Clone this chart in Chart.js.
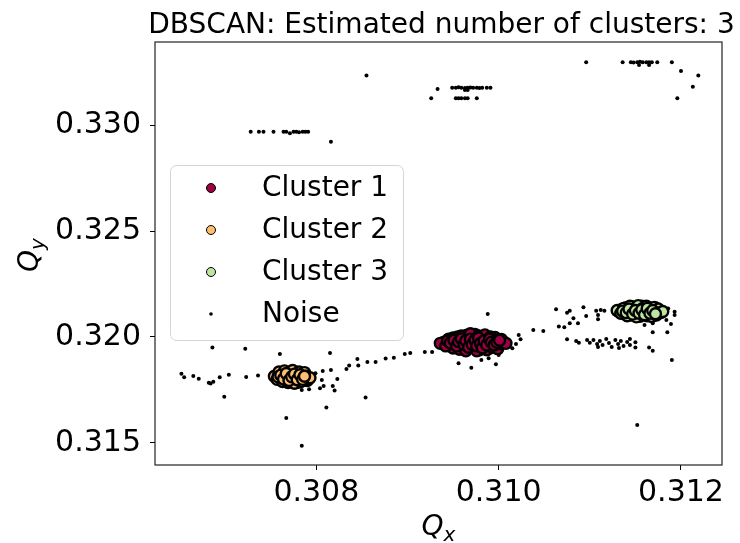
<!DOCTYPE html>
<html>
<head>
<meta charset="utf-8">
<script src="https://cdn.jsdelivr.net/npm/chart.js@4.4.1/dist/chart.umd.min.js"></script>
<style>
  html, body { margin: 0; padding: 0; background: #fff; }
  canvas { display: block; }
</style>
</head>
<body>
<canvas id="chart" width="740" height="543"></canvas>
<script>
// DBSCAN result on tune (Qx, Qy) samples
const titleText = "DBSCAN: Estimated number of clusters: 3";
const seriesNames = ["Cluster 1", "Cluster 2", "Cluster 3", "Noise"];
const seriesColors = ["#9e0142", "#fdbe6e", "#bee5a0", "#000000"];

const xTicks = [0.308, 0.310, 0.312];
const yTicks = [0.315, 0.320, 0.325, 0.330];
const xRange = [0.30623, 0.31245];
const yRange = [0.31396, 0.33392];

// core samples of each cluster, [Qx, Qy]
const cluster1 = [
  [0.30940,0.31975],[0.30945,0.31990],[0.30948,0.31962],[0.30952,0.31980],[0.30955,0.32000],
  [0.30958,0.31955],[0.30960,0.31970],[0.30962,0.31988],[0.30965,0.32008],[0.30966,0.31945],
  [0.30968,0.31962],[0.30970,0.31980],[0.30972,0.31996],[0.30974,0.32012],[0.30975,0.31950],
  [0.30977,0.31968],[0.30979,0.31940],[0.30980,0.31985],[0.30982,0.32002],[0.30984,0.31958],
  [0.30986,0.31975],[0.30988,0.31992],[0.30990,0.31948],[0.30992,0.31965],[0.30994,0.31982],
  [0.30996,0.31998],[0.30998,0.31960],[0.31000,0.31975],[0.31003,0.31988],[0.30950,0.31948],
  [0.30963,0.31975],[0.30985,0.31962],
  [0.30936,0.31970],[0.30942,0.31958],[0.30944,0.31982],[0.30950,0.31995],[0.30953,0.31968],
  [0.30957,0.31942],[0.30959,0.32005],[0.30961,0.31958],[0.30964,0.31935],[0.30967,0.31998],
  [0.30969,0.32015],[0.30971,0.31952],[0.30973,0.31970],[0.30976,0.31935],[0.30978,0.32005],
  [0.30981,0.31955],[0.30983,0.31990],[0.30985,0.32010],[0.30987,0.31940],[0.30989,0.31980],
  [0.30991,0.32000],[0.30993,0.31952],[0.30997,0.31985],[0.30999,0.31945],[0.31002,0.31968],
  [0.31005,0.31978],[0.31008,0.31970],
  [0.30947,0.31972],[0.30951,0.31985],[0.30954,0.31958],[0.30956,0.31978],[0.30959,0.31992],
  [0.30962,0.31965],[0.30964,0.31982],[0.30967,0.31952],[0.30969,0.31990],[0.30971,0.31965],
  [0.30974,0.31985],[0.30976,0.31958],[0.30978,0.31995],[0.30980,0.31970],[0.30982,0.31948],
  [0.30984,0.31982],[0.30987,0.31962],[0.30990,0.31990],[0.30992,0.31975],[0.30995,0.31962],
  [0.30998,0.31975],[0.31001,0.31985]
];
const cluster2 = [
  [0.30756,0.31810],[0.30758,0.31822],[0.30760,0.31798],[0.30762,0.31830],[0.30764,0.31812],
  [0.30766,0.31792],[0.30768,0.31825],[0.30770,0.31805],[0.30772,0.31835],[0.30773,0.31790],
  [0.30775,0.31818],[0.30777,0.31800],[0.30779,0.31828],[0.30780,0.31786],[0.30782,0.31812],
  [0.30784,0.31796],[0.30786,0.31822],[0.30788,0.31805],[0.30770,0.31815],[0.30778,0.31808],
  [0.30790,0.31795],
  [0.30754,0.31815],[0.30757,0.31800],[0.30759,0.31835],[0.30763,0.31790],[0.30765,0.31840],
  [0.30767,0.31810],[0.30769,0.31785],[0.30771,0.31825],[0.30774,0.31842],[0.30776,0.31782],
  [0.30779,0.31815],[0.30781,0.31835],[0.30783,0.31790],[0.30785,0.31810],[0.30787,0.31832],
  [0.30789,0.31815],[0.30791,0.31800],[0.30793,0.31808],
  [0.30758,0.31812],[0.30761,0.31820],[0.30764,0.31802],[0.30767,0.31828],[0.30770,0.31795],
  [0.30773,0.31812],[0.30776,0.31825],[0.30779,0.31798],[0.30782,0.31822],[0.30785,0.31800],
  [0.30787,0.31815]
];
const cluster3 = [
  [0.31132,0.32120],[0.31135,0.32130],[0.31138,0.32110],[0.31140,0.32138],[0.31143,0.32122],
  [0.31146,0.32104],[0.31148,0.32142],[0.31150,0.32116],[0.31152,0.32130],[0.31155,0.32098],
  [0.31157,0.32145],[0.31159,0.32112],[0.31161,0.32126],[0.31163,0.32100],[0.31165,0.32138],
  [0.31167,0.32118],[0.31170,0.32106],[0.31172,0.32130],[0.31174,0.32115],[0.31176,0.32122],
  [0.31145,0.32128],[0.31160,0.32120],
  [0.31130,0.32125],[0.31134,0.32112],[0.31137,0.32135],[0.31141,0.32100],[0.31144,0.32145],
  [0.31147,0.32115],[0.31149,0.32132],[0.31151,0.32095],[0.31153,0.32148],[0.31156,0.32120],
  [0.31158,0.32135],[0.31162,0.32145],[0.31164,0.32110],[0.31166,0.32128],[0.31168,0.32097],
  [0.31171,0.32140],[0.31173,0.32104],[0.31175,0.32132],[0.31178,0.32115],[0.31180,0.32120],
  [0.31136,0.32122],[0.31140,0.32115],[0.31143,0.32132],[0.31147,0.32108],[0.31150,0.32125],
  [0.31154,0.32112],[0.31157,0.32128],[0.31160,0.32105],[0.31163,0.32135],[0.31166,0.32112],
  [0.31169,0.32125],[0.31172,0.32110]
];
// points labelled -1
const noise = [
  [0.30855,0.33234],[0.30933,0.33170],[0.30926,0.33127],
  [0.30728,0.32968],[0.30737,0.32968],[0.30742,0.32968],[0.30753,0.32968],[0.30764,0.32968],
  [0.30767,0.32968],[0.30771,0.32962],[0.30775,0.32968],[0.30778,0.32968],[0.30781,0.32966],
  [0.30785,0.32968],[0.30788,0.32968],[0.30791,0.32968],[0.30816,0.32921],
  [0.30949,0.33176],[0.30953,0.33176],[0.30956,0.33178],[0.30959,0.33176],[0.30963,0.33175],
  [0.30966,0.33176],[0.30969,0.33177],[0.30972,0.33176],[0.30976,0.33176],[0.30979,0.33175],
  [0.30982,0.33176],[0.30987,0.33176],[0.30991,0.33176],[0.30963,0.33165],[0.30966,0.33165],
  [0.30953,0.33127],[0.30956,0.33127],[0.30959,0.33127],[0.30963,0.33127],[0.30966,0.33127],
  [0.30976,0.33127],
  [0.31096,0.33297],[0.31136,0.33297],[0.31145,0.33297],[0.31148,0.33295],[0.31152,0.33297],
  [0.31155,0.33299],[0.31158,0.33297],[0.31162,0.33296],[0.31165,0.33297],[0.31168,0.33297],
  [0.31174,0.33297],[0.31154,0.33283],[0.31165,0.33283],
  [0.31190,0.33297],[0.31200,0.33255],[0.31219,0.33234],[0.31213,0.33181],[0.31196,0.33127],
  [0.30686,0.31951],[0.30722,0.31945],[0.30760,0.31920],[0.30815,0.31925],
  [0.30652,0.31826],[0.30655,0.31810],[0.30665,0.31816],[0.30671,0.31803],[0.30682,0.31784],
  [0.30687,0.31789],[0.30684,0.31780],[0.30694,0.31810],[0.30704,0.31822],[0.30723,0.31811],
  [0.30736,0.31818],[0.30699,0.31718],
  [0.30799,0.31829],[0.30807,0.31840],[0.30806,0.31797],[0.30808,0.31769],[0.30804,0.31758],
  [0.30818,0.31769],[0.30820,0.31747],[0.30816,0.31844],[0.30823,0.31802],[0.30784,0.31750],
  [0.30792,0.31753],
  [0.30833,0.31849],[0.30836,0.31865],[0.30845,0.31896],[0.30846,0.31865],[0.30856,0.31882],
  [0.30865,0.31882],[0.30876,0.31898],[0.30885,0.31902],[0.30897,0.31920],[0.30903,0.31925],
  [0.30919,0.31929],[0.30927,0.31929],
  [0.30854,0.31714],[0.30811,0.31667],[0.30767,0.31618],[0.30784,0.31487],
  [0.30988,0.32109],
  [0.31022,0.32009],[0.31024,0.31989],[0.31019,0.31967],[0.31015,0.31947],
  [0.30956,0.31876],[0.30970,0.31855],[0.30997,0.31871],[0.30981,0.31892],[0.30989,0.31900],
  [0.31000,0.31915],
  [0.31038,0.32033],[0.31049,0.32028],
  [0.31063,0.32131],[0.31075,0.32115],[0.31078,0.32124],[0.31093,0.32140],[0.31096,0.32099],
  [0.31082,0.32088],[0.31078,0.32065],[0.31087,0.32065],[0.31066,0.32049],[0.31072,0.32046],
  [0.31107,0.32124],[0.31112,0.32127],[0.31116,0.32124],[0.31109,0.32104],[0.31109,0.32084],
  [0.31186,0.32135],[0.31193,0.32119],[0.31193,0.32104],[0.31184,0.32080],[0.31189,0.32061],
  [0.31185,0.32022],[0.31169,0.32022],[0.31160,0.32057],[0.31169,0.32065],
  [0.31075,0.31989],[0.31085,0.31981],[0.31088,0.31973],[0.31097,0.31986],[0.31100,0.31973],
  [0.31104,0.31986],[0.31108,0.31967],[0.31111,0.31981],[0.31114,0.31962],[0.31118,0.31991],
  [0.31121,0.31972],[0.31124,0.31953],[0.31128,0.31986],[0.31131,0.31967],[0.31134,0.31981],
  [0.31137,0.31958],[0.31141,0.31976],[0.31144,0.31991],[0.31144,0.31962],[0.31109,0.31953],
  [0.31132,0.31948],
  [0.31150,0.31975],[0.31150,0.31951],[0.31165,0.31951],[0.31169,0.31935],
  [0.31190,0.31892],[0.31152,0.31585]
];

const FONT = "DejaVu Sans";
const toXY = pts => pts.map(p => ({ x: p[0], y: p[1] }));

function clusterSet(i, pts) {
  return {
    label: seriesNames[i],
    data: toXY(pts),
    pointRadius: 5.5,
    pointBackgroundColor: seriesColors[i],
    pointBorderColor: "#000",
    pointBorderWidth: 2.4
  };
}

// frame, title, axis labels and legend drawn by hand
const decorations = {
  id: "decorations",
  afterDraw(chart) {
    const ctx = chart.ctx;
    const a = chart.chartArea;
    ctx.save();

    ctx.strokeStyle = "#222";
    ctx.lineWidth = 1.2;
    ctx.strokeRect(a.left, a.top, a.right - a.left, a.bottom - a.top);

    ctx.fillStyle = "#000";
    ctx.font = "28px '" + FONT + "'";
    ctx.textAlign = "center";
    ctx.textBaseline = "alphabetic";
    ctx.fillText(titleText, (a.left + a.right) / 2 + 3, 33);

    // Q_x
    drawSubLabel(ctx, "Q", "x", (a.left + a.right) / 2, 535);
    // Q_y, rotated
    ctx.save();
    ctx.translate(38, 255);
    ctx.rotate(-Math.PI / 2);
    drawSubLabel(ctx, "Q", "y", 0, 0);
    ctx.restore();

    // legend
    const lx = 170.5, ly = 165.5, lw = 233, lh = 175;
    ctx.beginPath();
    ctx.roundRect(lx, ly, lw, lh, 6);
    ctx.fillStyle = "rgba(255,255,255,0.8)";
    ctx.fill();
    ctx.strokeStyle = "#d5d5d5";
    ctx.lineWidth = 1;
    ctx.stroke();

    ctx.font = "28px '" + FONT + "'";
    ctx.textAlign = "left";
    ctx.textBaseline = "middle";
    chart.data.datasets.forEach((ds, i) => {
      const rowY = 188 + i * 42;
      ctx.beginPath();
      if (i < 3) {
        ctx.arc(211, rowY, 4.5, 0, Math.PI * 2);
        ctx.fillStyle = ds.pointBackgroundColor;
        ctx.fill();
        ctx.strokeStyle = "#000";
        ctx.lineWidth = 1;
        ctx.stroke();
      } else {
        ctx.arc(211, rowY, 1.8, 0, Math.PI * 2);
        ctx.fillStyle = "#000";
        ctx.fill();
      }
      ctx.fillStyle = "#000";
      ctx.fillText(ds.label, 262, rowY + 1);
    });
    ctx.restore();
  }
};

function drawSubLabel(ctx, main, sub, cx, baseY) {
  ctx.font = "italic 28px '" + FONT + "'";
  const w1 = ctx.measureText(main).width;
  ctx.font = "italic 20px '" + FONT + "'";
  const w2 = ctx.measureText(sub).width;
  const x0 = cx - (w1 + w2) / 2;
  ctx.fillStyle = "#000";
  ctx.textAlign = "left";
  ctx.textBaseline = "alphabetic";
  ctx.font = "italic 28px '" + FONT + "'";
  ctx.fillText(main, x0, baseY);
  ctx.font = "italic 20px '" + FONT + "'";
  ctx.fillText(sub, x0 + w1, baseY + 6);
}

const tickFont = { family: FONT, size: 30 };

new Chart(document.getElementById("chart"), {
  type: "scatter",
  data: {
    datasets: [
      clusterSet(0, cluster1),
      clusterSet(1, cluster2),
      clusterSet(2, cluster3),
      {
        label: seriesNames[3],
        data: toXY(noise),
        pointRadius: 2,
        pointBackgroundColor: "#000",
        pointBorderWidth: 0
      }
    ]
  },
  options: {
    responsive: false,
    animation: false,
    layout: { padding: { top: 42, right: 18, left: 0, bottom: 0 } },
    plugins: { legend: { display: false }, tooltip: { enabled: false } },
    scales: {
      x: {
        type: "linear",
        min: xRange[0],
        max: xRange[1],
        afterBuildTicks: s => { s.ticks = xTicks.map(v => ({ value: v })); },
        afterFit: s => { s.height = 78; },
        ticks: { font: tickFont, color: "#000", padding: 5, maxRotation: 0, callback: v => v.toFixed(3) },
        grid: { drawOnChartArea: false, drawTicks: true, tickLength: 5, tickColor: "#000", tickWidth: 1 },
        border: { display: false }
      },
      y: {
        type: "linear",
        min: yRange[0],
        max: yRange[1],
        afterBuildTicks: s => { s.ticks = yTicks.map(v => ({ value: v })); },
        afterFit: s => { s.width = 155; },
        ticks: { font: tickFont, color: "#000", padding: 9, callback: v => v.toFixed(3) },
        grid: { drawOnChartArea: false, drawTicks: true, tickLength: 5, tickColor: "#000", tickWidth: 1 },
        border: { display: false }
      }
    }
  },
  plugins: [decorations]
});
</script>
</body>
</html>
